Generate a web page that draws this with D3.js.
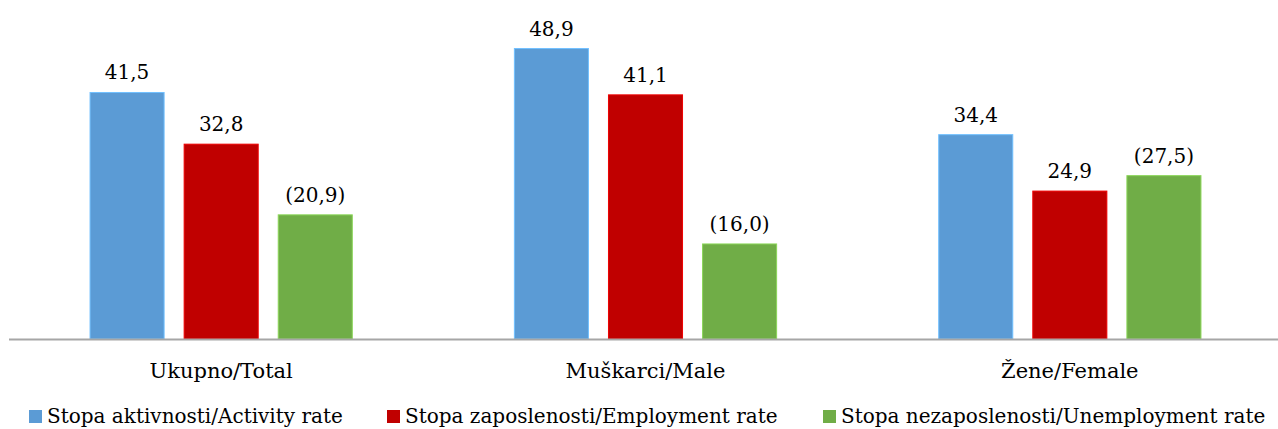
<!DOCTYPE html>
<html>
<head>
<meta charset="utf-8">
<script src="https://cdn.jsdelivr.net/npm/d3@7"></script>
<style>
  body { margin: 0; background: #fff; }
  text { font-family: "DejaVu Serif", serif; fill: #000; }
</style>
</head>
<body>
<div id="chart"></div>
<script>
const categories = ["Ukupno/Total", "Muškarci/Male", "Žene/Female"];
const seriesNames = ["Stopa aktivnosti/Activity rate", "Stopa zaposlenosti/Employment rate", "Stopa nezaposlenosti/Unemployment rate"];
const activity = [41.5, 48.9, 34.4];
const employment = [32.8, 41.1, 24.9];
const unemployment = [20.9, 16.0, 27.5];
const labelInParens = [false, false, true];
const colors = ["#5b9bd5", "#c00000", "#70ad47"];

const values = [activity, employment, unemployment];

const svg = d3.select("#chart")
  .append("svg")
  .attr("width", 1278)
  .attr("height", 429);

const baseY = 339;

const x0 = d3.scaleBand().domain(categories).range([9, 1282]).paddingInner(0.382).paddingOuter(0.191);
const x1 = d3.scaleBand().domain(seriesNames).range([0, x0.bandwidth()]).paddingInner(0.213);
const y = d3.scaleLinear().domain([0, 50]).range([baseY, 42]);

const fmt = v => v.toFixed(1).replace(".", ",");

categories.forEach((cat, i) => {
  const g = svg.append("g").attr("transform", `translate(${x0(cat)},0)`);
  seriesNames.forEach((s, j) => {
    const v = values[j][i];
    g.append("rect")
      .attr("x", x1(s))
      .attr("y", y(v))
      .attr("width", x1.bandwidth())
      .attr("height", baseY - y(v))
      .attr("fill", colors[j])
      .attr("stroke", d3.color(colors[j]).brighter(0.6))
      .attr("stroke-width", 1);
    g.append("text")
      .attr("x", x1(s) + x1.bandwidth() / 2)
      .attr("y", y(v) - 13)
      .attr("text-anchor", "middle")
      .style("font-size", "20px")
      .text(labelInParens[j] ? `(${fmt(v)})` : fmt(v));
  });
});

// axis line
svg.append("line")
  .attr("x1", 9).attr("x2", 1278)
  .attr("y1", baseY + 0.5).attr("y2", baseY + 0.5)
  .attr("stroke", "#a6a6a6")
  .attr("stroke-width", 2);

// category labels
svg.selectAll(".cat")
  .data(categories)
  .enter().append("text")
  .attr("class", "cat")
  .attr("x", d => x0(d) + x0.bandwidth() / 2)
  .attr("y", 378)
  .attr("text-anchor", "middle")
  .style("font-size", "21px")
  .text(d => d);

// Legend
const legendX = [29, 387, 823];
seriesNames.forEach((s, j) => {
  svg.append("rect")
    .attr("x", legendX[j])
    .attr("y", 410)
    .attr("width", 13)
    .attr("height", 13)
    .attr("fill", colors[j]);
  svg.append("text")
    .attr("x", legendX[j] + 18)
    .attr("y", 423)
    .style("font-size", "20px")
    .text(s);
});
</script>
</body>
</html>
